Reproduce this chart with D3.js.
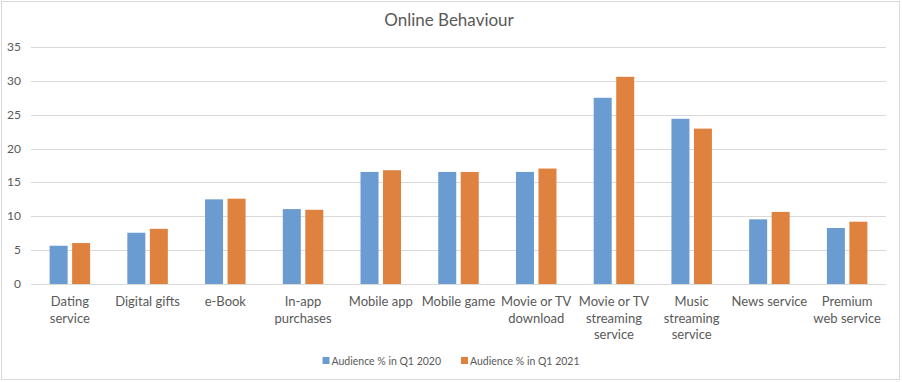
<!DOCTYPE html>
<html>
<head>
<meta charset="utf-8">
<script src="https://cdn.jsdelivr.net/npm/d3@7"></script>
<style>
  body { margin: 0; background: #fff; }
  svg { font-family: Lato, "Open Sans", sans-serif; }
</style>
</head>
<body>
<svg id="chart" width="902" height="382"></svg>
<script>
const categories = ["Dating service", "Digital gifts", "e-Book", "In-app purchases", "Mobile app",
  "Mobile game", "Movie or TV download", "Movie or TV streaming service", "Music streaming service",
  "News service", "Premium web service"];
// category labels as Excel wraps them
const categoryLines = [["Dating", "service"], ["Digital gifts"], ["e-Book"], ["In-app", "purchases"],
  ["Mobile app"], ["Mobile game"], ["Movie or TV", "download"], ["Movie or TV", "streaming", "service"],
  ["Music", "streaming", "service"], ["News service"], ["Premium", "web service"]];
const series = ["Audience % in Q1 2020", "Audience % in Q1 2021"];
const q1_2020 = [5.65, 7.57, 12.5, 11.06, 16.55, 16.55, 16.55, 27.5, 24.4, 9.55, 8.27];
const q1_2021 = [6.05, 8.15, 12.6, 10.96, 16.8, 16.55, 17.05, 30.6, 22.95, 10.65, 9.2];
const yTicks = [0, 5, 10, 15, 20, 25, 30, 35];
const colors = ["#6A9BD1", "#E0823F"];

const svg = d3.select("#chart");
const W = 902, H = 382;
const m = {left: 31, right: 16};

svg.append("rect")
  .attr("x", 1.5).attr("y", 1.5)
  .attr("width", W - 4).attr("height", H - 4)
  .attr("fill", "#fff").attr("stroke", "#d9d9d9");

svg.append("text")
  .attr("x", W / 2 - 2).attr("y", 26)
  .attr("text-anchor", "middle")
  .attr("fill", "#595959")
  .style("font-size", "17px")
  .text("Online Behaviour");

const x = d3.scaleBand().domain(categories).range([m.left, W - m.right]);
const y = d3.scaleLinear().domain([0, 35]).range([284, 47]);

// gridlines
svg.append("g").selectAll("line")
  .data(yTicks)
  .join("line")
  .attr("x1", m.left).attr("x2", W - m.right)
  .attr("y1", d => Math.round(y(d)) + 0.5).attr("y2", d => Math.round(y(d)) + 0.5)
  .attr("stroke", "#d9d9d9").attr("stroke-width", 1);

// y labels
svg.append("g").selectAll("text")
  .data(yTicks)
  .join("text")
  .attr("x", 21).attr("y", d => y(d) + 4)
  .attr("text-anchor", "end")
  .attr("fill", "#595959")
  .style("font-size", "12px")
  .text(d => d);

// bars
const barW = 18, gap = 4.5;
const data = categories.map((c, i) => ({c, vals: [q1_2020[i], q1_2021[i]]}));
const groups = svg.append("g").selectAll("g")
  .data(data)
  .join("g")
  .attr("transform", d => `translate(${x(d.c) + x.bandwidth() / 2},0)`);

groups.selectAll("rect")
  .data(d => d.vals.map((v, k) => ({v, k})))
  .join("rect")
  .attr("x", d => d.k === 0 ? -barW - gap / 2 : gap / 2)
  .attr("width", barW)
  .attr("y", d => y(d.v))
  .attr("height", d => y(0) - y(d.v))
  .attr("fill", d => colors[d.k]);

// category labels
svg.append("g").selectAll("text")
  .data(categories)
  .join("text")
  .attr("x", d => x(d) + x.bandwidth() / 2)
  .attr("y", 306)
  .attr("text-anchor", "middle")
  .attr("fill", "#595959")
  .style("font-size", "13px")
  .selectAll("tspan")
  .data((d, i) => categoryLines[i])
  .join("tspan")
  .attr("x", function() { return this.parentNode.getAttribute("x"); })
  .attr("dy", (d, j) => j === 0 ? 0 : 16.7)
  .text(d => d);

// legend
const legend = svg.append("g").style("font-size", "10.5px");
let lx = 0;
series.forEach((s, k) => {
  const item = legend.append("g").attr("transform", `translate(${lx},0)`);
  item.append("rect")
    .attr("x", 0).attr("y", 357)
    .attr("width", 7).attr("height", 7)
    .attr("fill", colors[k]);
  const txt = item.append("text")
    .attr("x", 9).attr("y", 364.5)
    .attr("fill", "#595959")
    .text(s);
  lx += 9 + txt.node().getComputedTextLength() + 20;
});
const legW = lx - 20;
legend.attr("transform", `translate(${(W - legW) / 2},0)`);
</script>
</body>
</html>
